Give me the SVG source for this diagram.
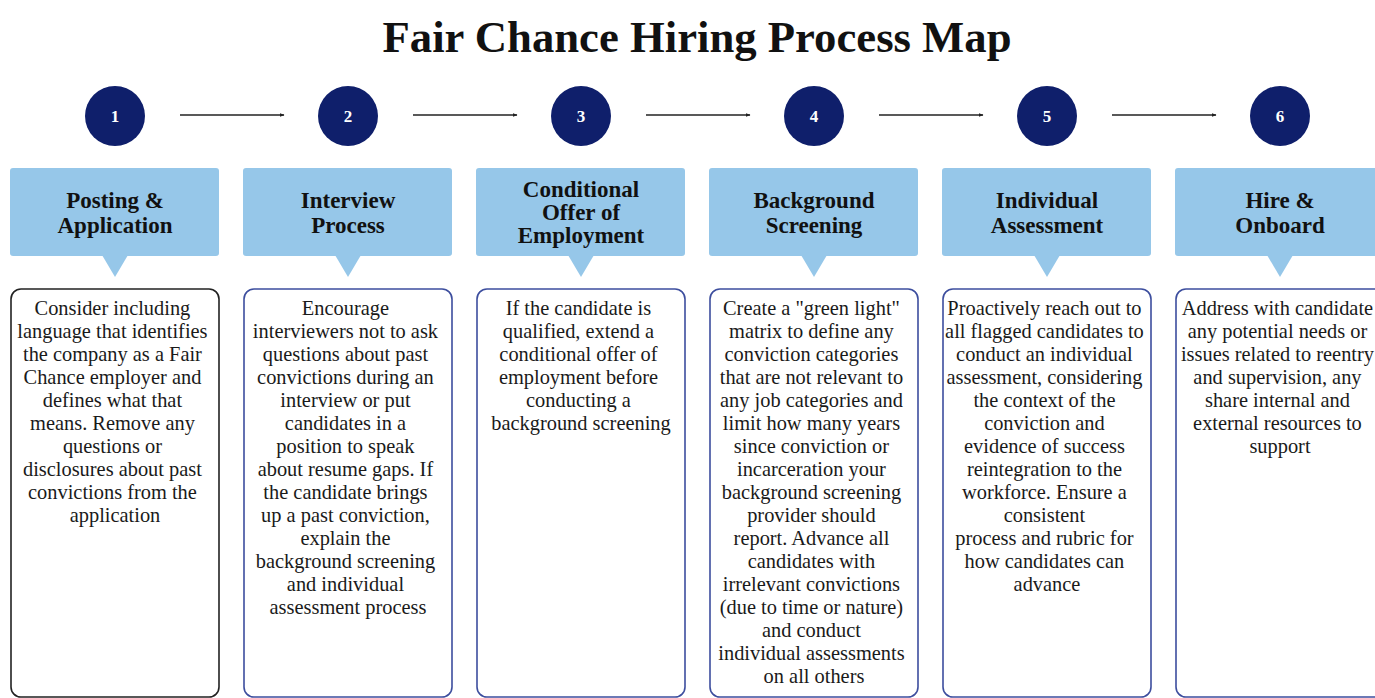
<svg xmlns="http://www.w3.org/2000/svg" width="1375" height="698" viewBox="0 0 1375 698">
<defs>
<style>
.title{font-family:"Liberation Serif","Times New Roman",serif;font-weight:bold;font-size:44px;fill:#111;text-anchor:middle}
.num{font-family:"Liberation Serif",serif;font-weight:bold;font-size:17px;fill:#fff;text-anchor:middle}
.circ{fill:#0f1f6b}
.hdr{fill:#96c7e9}
.htxt{font-family:"Liberation Serif",serif;font-weight:bold;font-size:23px;fill:#111;text-anchor:middle}
.box{fill:#fff;stroke:#3d4e9e;stroke-width:1.6}
.btxt{font-family:"Liberation Serif",serif;font-size:20.4px;fill:#1a1a1a;text-anchor:middle}
.conn{stroke:#222;stroke-width:1.5;fill:none}
</style>
<marker id="ah" viewBox="0 0 10 10" refX="9" refY="5" markerWidth="5" markerHeight="5" orient="auto" markerUnits="userSpaceOnUse">
<path d="M0,1 L10,5 L0,9 z" fill="#222"/>
</marker>
</defs>
<rect width="1375" height="698" fill="#fff"/>
<text class="title" x="697" y="52" textLength="629" lengthAdjust="spacingAndGlyphs">Fair Chance Hiring Process Map</text>

<g id="connectors">
<line class="conn" x1="180" y1="115" x2="284" y2="115" marker-end="url(#ah)"/>
<line class="conn" x1="413" y1="115" x2="517" y2="115" marker-end="url(#ah)"/>
<line class="conn" x1="646" y1="115" x2="750" y2="115" marker-end="url(#ah)"/>
<line class="conn" x1="879" y1="115" x2="983" y2="115" marker-end="url(#ah)"/>
<line class="conn" x1="1112" y1="115" x2="1216" y2="115" marker-end="url(#ah)"/>
</g>

<g id="step1">
<circle class="circ" cx="115" cy="116" r="30"/>
<text class="num" x="115" y="122">1</text>
<rect class="hdr" x="10" y="168" width="209" height="88" rx="3"/>
<path class="hdr" d="M102,255 L128,255 L115,277 z"/>
<text class="htxt" x="115" y="208">Posting &amp;</text>
<text class="htxt" x="115" y="233">Application</text>
<rect class="box" x="11" y="289" width="208" height="408" rx="10" style="stroke:#222"/>
<text class="btxt" y="315">
<tspan x="115">Consider including</tspan>
<tspan x="115" dy="23">language that identifies</tspan>
<tspan x="115" dy="23">the company as a Fair</tspan>
<tspan x="115" dy="23">Chance employer and</tspan>
<tspan x="115" dy="23">defines what that</tspan>
<tspan x="115" dy="23">means. Remove any</tspan>
<tspan x="115" dy="23">questions or</tspan>
<tspan x="115" dy="23">disclosures about past</tspan>
<tspan x="115" dy="23">convictions from the</tspan>
<tspan x="115" dy="23">application</tspan>
</text>
</g>

<g id="step2">
<circle class="circ" cx="348" cy="116" r="30"/>
<text class="num" x="348" y="122">2</text>
<rect class="hdr" x="243" y="168" width="209" height="88" rx="3"/>
<path class="hdr" d="M335,255 L361,255 L348,277 z"/>
<text class="htxt" x="348" y="208">Interview</text>
<text class="htxt" x="348" y="233">Process</text>
<rect class="box" x="244" y="289" width="208" height="408" rx="10"/>
<text class="btxt" y="315">
<tspan x="348">Encourage</tspan>
<tspan x="348" dy="23">interviewers not to ask</tspan>
<tspan x="348" dy="23">questions about past</tspan>
<tspan x="348" dy="23">convictions during an</tspan>
<tspan x="348" dy="23">interview or put</tspan>
<tspan x="348" dy="23">candidates in a</tspan>
<tspan x="348" dy="23">position to speak</tspan>
<tspan x="348" dy="23">about resume gaps. If</tspan>
<tspan x="348" dy="23">the candidate brings</tspan>
<tspan x="348" dy="23">up a past conviction,</tspan>
<tspan x="348" dy="23">explain the</tspan>
<tspan x="348" dy="23">background screening</tspan>
<tspan x="348" dy="23">and individual</tspan>
<tspan x="348" dy="23">assessment process</tspan>
</text>
</g>

<g id="step3">
<circle class="circ" cx="581" cy="116" r="30"/>
<text class="num" x="581" y="122">3</text>
<rect class="hdr" x="476" y="168" width="209" height="88" rx="3"/>
<path class="hdr" d="M568,255 L594,255 L581,277 z"/>
<text class="htxt" x="581" y="197">Conditional</text>
<text class="htxt" x="581" y="220">Offer of</text>
<text class="htxt" x="581" y="243">Employment</text>
<rect class="box" x="477" y="289" width="208" height="408" rx="10"/>
<text class="btxt" y="315">
<tspan x="581">If the candidate is</tspan>
<tspan x="581" dy="23">qualified, extend a</tspan>
<tspan x="581" dy="23">conditional offer of</tspan>
<tspan x="581" dy="23">employment before</tspan>
<tspan x="581" dy="23">conducting a</tspan>
<tspan x="581" dy="23">background screening</tspan>
</text>
</g>

<g id="step4">
<circle class="circ" cx="814" cy="116" r="30"/>
<text class="num" x="814" y="122">4</text>
<rect class="hdr" x="709" y="168" width="209" height="88" rx="3"/>
<path class="hdr" d="M801,255 L827,255 L814,277 z"/>
<text class="htxt" x="814" y="208">Background</text>
<text class="htxt" x="814" y="233">Screening</text>
<rect class="box" x="710" y="289" width="208" height="408" rx="10"/>
<text class="btxt" y="315">
<tspan x="814">Create a "green light"</tspan>
<tspan x="814" dy="23">matrix to define any</tspan>
<tspan x="814" dy="23">conviction categories</tspan>
<tspan x="814" dy="23">that are not relevant to</tspan>
<tspan x="814" dy="23">any job categories and</tspan>
<tspan x="814" dy="23">limit how many years</tspan>
<tspan x="814" dy="23">since conviction or</tspan>
<tspan x="814" dy="23">incarceration your</tspan>
<tspan x="814" dy="23">background screening</tspan>
<tspan x="814" dy="23">provider should</tspan>
<tspan x="814" dy="23">report. Advance all</tspan>
<tspan x="814" dy="23">candidates with</tspan>
<tspan x="814" dy="23">irrelevant convictions</tspan>
<tspan x="814" dy="23">(due to time or nature)</tspan>
<tspan x="814" dy="23">and conduct</tspan>
<tspan x="814" dy="23">individual assessments</tspan>
<tspan x="814" dy="23">on all others</tspan>
</text>
</g>

<g id="step5">
<circle class="circ" cx="1047" cy="116" r="30"/>
<text class="num" x="1047" y="122">5</text>
<rect class="hdr" x="942" y="168" width="209" height="88" rx="3"/>
<path class="hdr" d="M1034,255 L1060,255 L1047,277 z"/>
<text class="htxt" x="1047" y="208">Individual</text>
<text class="htxt" x="1047" y="233">Assessment</text>
<rect class="box" x="943" y="289" width="208" height="408" rx="10"/>
<text class="btxt" y="315">
<tspan x="1047">Proactively reach out to</tspan>
<tspan x="1047" dy="23">all flagged candidates to</tspan>
<tspan x="1047" dy="23">conduct an individual</tspan>
<tspan x="1047" dy="23">assessment, considering</tspan>
<tspan x="1047" dy="23">the context of the</tspan>
<tspan x="1047" dy="23">conviction and</tspan>
<tspan x="1047" dy="23">evidence of success</tspan>
<tspan x="1047" dy="23">reintegration to the</tspan>
<tspan x="1047" dy="23">workforce. Ensure a</tspan>
<tspan x="1047" dy="23">consistent</tspan>
<tspan x="1047" dy="23">process and rubric for</tspan>
<tspan x="1047" dy="23">how candidates can</tspan>
<tspan x="1047" dy="23">advance</tspan>
</text>
</g>

<g id="step6">
<circle class="circ" cx="1280" cy="116" r="30"/>
<text class="num" x="1280" y="122">6</text>
<rect class="hdr" x="1175" y="168" width="209" height="88" rx="3"/>
<path class="hdr" d="M1267,255 L1293,255 L1280,277 z"/>
<text class="htxt" x="1280" y="208">Hire &amp;</text>
<text class="htxt" x="1280" y="233">Onboard</text>
<rect class="box" x="1176" y="289" width="208" height="408" rx="10"/>
<text class="btxt" y="315">
<tspan x="1280">Address with candidate</tspan>
<tspan x="1280" dy="23">any potential needs or</tspan>
<tspan x="1280" dy="23">issues related to reentry</tspan>
<tspan x="1280" dy="23">and supervision, any</tspan>
<tspan x="1280" dy="23">share internal and</tspan>
<tspan x="1280" dy="23">external resources to</tspan>
<tspan x="1280" dy="23">support</tspan>
</text>
</g>
</svg>
